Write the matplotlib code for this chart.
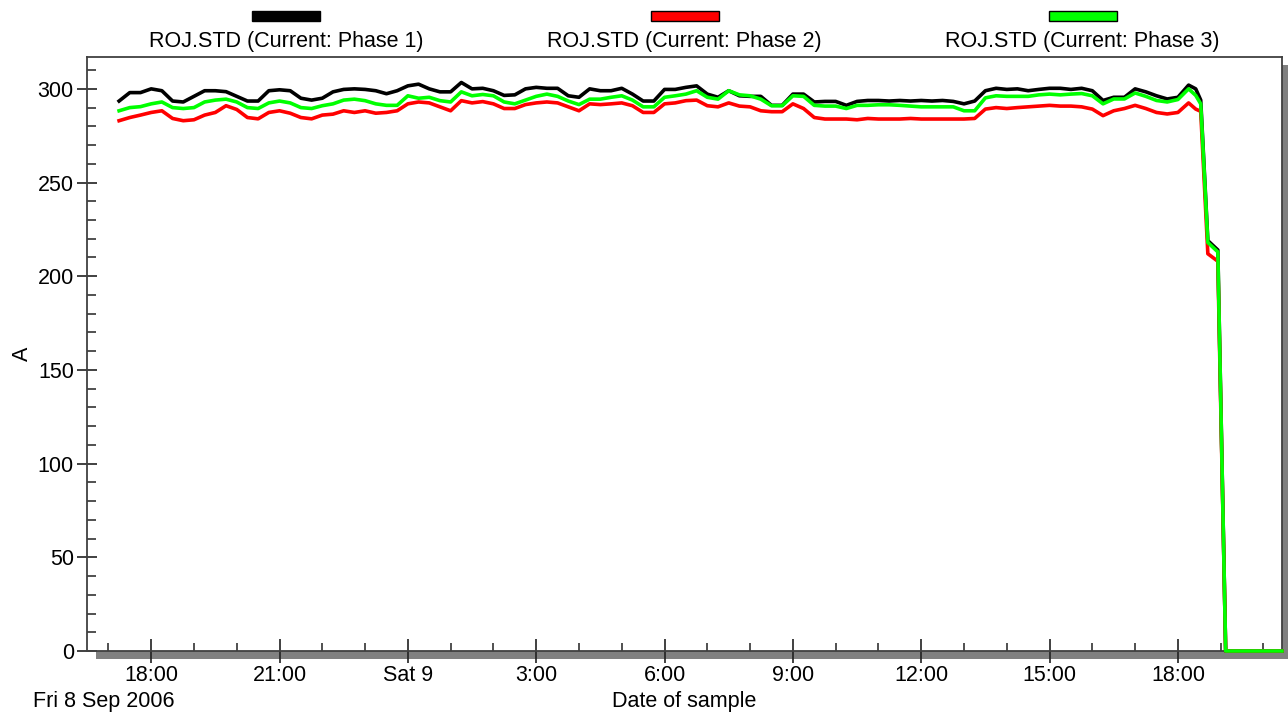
import numpy as np
import pandas as pd
import matplotlib
matplotlib.use("Agg")
import matplotlib.pyplot as plt
import matplotlib.dates as mdates
from matplotlib.patches import Rectangle
from matplotlib.ticker import MultipleLocator, FuncFormatter

plt.rcParams['font.family'] = ['Liberation Sans', 'DejaVu Sans']

# samples every 15 min from Fri 8 Sep 2006 17:15 to Sat 18:15, then the shut-down
times_regular = pd.date_range("2006-09-08 17:15", "2006-09-09 18:15", freq="15min")
times_tail = pd.to_datetime(["2006-09-09 18:25", "2006-09-09 18:32", "2006-09-09 18:42",
                             "2006-09-09 18:56", "2006-09-09 19:07", "2006-09-09 20:26"])
times = times_regular.append(times_tail)

phase1 = [293.5, 298, 298, 300, 299, 293.5, 293, 296, 299, 299, 298.5, 296, 293.5, 293.5, 299, 299.5, 299, 295, 294, 295,
          298.4, 299.7, 300, 299.7, 299, 297.4, 299, 301.6, 302.5, 300, 298.4, 298.4, 303.4, 300, 300.3, 299, 296.5, 296.8, 300, 300.8,
          300.3, 300.3, 296.3, 295.5, 300, 299, 299, 300.3, 297.2, 293.5, 293.5, 299.7, 299.7, 300.8, 301.6, 297.2, 295.5, 299, 296.3, 296, 296,
          291.2, 291.2, 297.2, 297.2, 293, 293.3, 293.3, 291.2, 293.3, 293.8, 293.8, 293.5, 293.8, 293.5, 293.8, 293.5, 293.8, 293.3, 292, 293.5,
          299, 300.3, 299.7, 300, 299, 299.7, 300.3, 300.3, 299.7, 300.3, 299, 293.8, 295.5, 295.5, 300, 298.4, 296.3, 294.6, 295.5, 302,
          300, 294, 219, 214, 0, 0]
phase2 = [283, 284.7, 286, 287.4, 288.3, 284.2, 283, 283.5, 286, 287.4, 291, 289, 284.7, 284, 287.4, 288.3, 287, 284.7, 284, 286,
          286.5, 288.3, 287.4, 288.3, 287, 287.4, 288.3, 292, 293, 292.5, 290.4, 288.3, 293.7, 292.5, 293.2, 292, 289.5, 289.5, 291.6, 292.5,
          293, 292.5, 290.4, 288.3, 292, 291.6, 292, 292.5, 291, 287.4, 287.4, 292, 292.5, 293.7, 294, 291, 290.4, 292.5, 290.8, 290.4, 288.3,
          287.8, 287.8, 292, 289.5, 284.7, 283.9, 283.9, 283.9, 283.5, 284.2, 283.9, 283.9, 283.9, 284.2, 283.9, 283.9, 283.9, 283.9, 283.9, 284.2,
          289.2, 290, 289.5, 290, 290.4, 290.8, 291.2, 290.8, 290.8, 290.4, 289.2, 285.7, 288.3, 289.5, 291.2, 289.5, 287.4, 286.6, 287.4, 292.5,
          289.2, 288, 212, 208, 0, 0]
phase3 = [288.3, 290, 290.5, 292, 293, 290, 289.5, 290, 293, 294, 294.5, 293, 290, 289.5, 292.5, 293.5, 292.5, 290, 289.5, 291,
          292, 294, 294.5, 293.7, 292, 291.2, 291.2, 296.3, 295, 295.5, 293.7, 293, 298.4, 296.3, 297, 296.3, 293, 292, 294, 296,
          297.2, 296, 293.5, 291.6, 294.5, 294.5, 295.5, 296.3, 294, 290.4, 290.4, 295.5, 296.3, 297.2, 299, 295.5, 294.5, 299, 296.8, 296.3, 294.5,
          291, 291, 296.3, 296, 291.2, 290.8, 290.8, 289.5, 291.2, 291.2, 291.5, 291.5, 291.2, 290.8, 290.4, 290.4, 290.4, 290.4, 288.3, 288.3,
          295.2, 296.3, 296, 296, 296, 296.8, 297.2, 296.8, 297.2, 297.5, 296.3, 292, 294.6, 294.6, 297.8, 296, 293.8, 293, 294.3, 300,
          296.5, 292, 218, 213, 0, 0]

labels = ["ROJ.STD (Current: Phase 1)", "ROJ.STD (Current: Phase 2)", "ROJ.STD (Current: Phase 3)"]
colors = ["#000000", "#ff0000", "#00ff00"]

W, H = 1288, 717
fs = 15.5
fig = plt.figure(figsize=(W / 100, H / 100), dpi=100)
fig.patch.set_facecolor("white")
ax = fig.add_axes([87 / W, 1 - 651 / H, (1282 - 87) / W, (651 - 57) / H])

# drop shadow of the plot frame
fig.add_artist(Rectangle((96 / W, 1 - 659 / H), (1300 - 96) / W, (659 - 65) / H,
                         transform=fig.transFigure, facecolor="#808080", edgecolor="none", zorder=-1))

for vals, c in zip([phase1, phase2, phase3], colors):
    ax.plot(times, vals, color=c, linewidth=2.6, clip_on=False, zorder=3)

ax.set_xlim(pd.Timestamp("2006-09-08 16:30"), pd.Timestamp("2006-09-09 20:26"))
ax.set_ylim(0, 317)

def fmt_time(x, pos=None):
    d = mdates.num2date(x)
    if d.hour == 0:
        return d.strftime("%a ") + str(d.day)
    return f"{d.hour}:{d.minute:02d}"

ax.xaxis.set_major_locator(mdates.HourLocator(byhour=range(0, 24, 3)))
ax.xaxis.set_minor_locator(mdates.HourLocator())
ax.xaxis.set_major_formatter(FuncFormatter(fmt_time))
ax.yaxis.set_major_locator(MultipleLocator(50))
ax.yaxis.set_minor_locator(MultipleLocator(10))

frame = "#404040"
for s in ax.spines.values():
    s.set_color(frame)
    s.set_linewidth(1.3)

ax.tick_params(axis="x", which="major", direction="inout", length=17, width=1.2, color="#202020",
               labelsize=fs, pad=1.5)
ax.tick_params(axis="x", which="minor", direction="in", length=6, width=1.1, color="#202020")
ax.tick_params(axis="y", which="major", direction="inout", length=15, width=1.2, color="#202020",
               labelsize=fs, pad=2)
ax.tick_params(axis="y", which="minor", direction="in", length=6.5, width=1.1, color="#202020")

ax.set_ylabel("A", fontsize=fs)
ax.yaxis.set_label_coords((33 - 87) / 1195, 0.5)
ax.set_xlabel("Date of sample", fontsize=fs, labelpad=4)
fig.text(33 / W, 1 - 701 / H, "Fri 8 Sep 2006", fontsize=fs, ha="left", va="center")

# legend above the plot: coloured bar over each label
for lab, c, cx in zip(labels, colors, [286, 684.5, 1082.5]):
    fig.add_artist(Rectangle(((cx - 34) / W, 1 - 21 / H), 68 / W, 10.5 / H, transform=fig.transFigure,
                             facecolor=c, edgecolor="black", linewidth=1))
    fig.text(cx / W, 1 - 41 / H, lab, fontsize=fs, ha="center", va="center")

fig.savefig("out.png", dpi=100)
